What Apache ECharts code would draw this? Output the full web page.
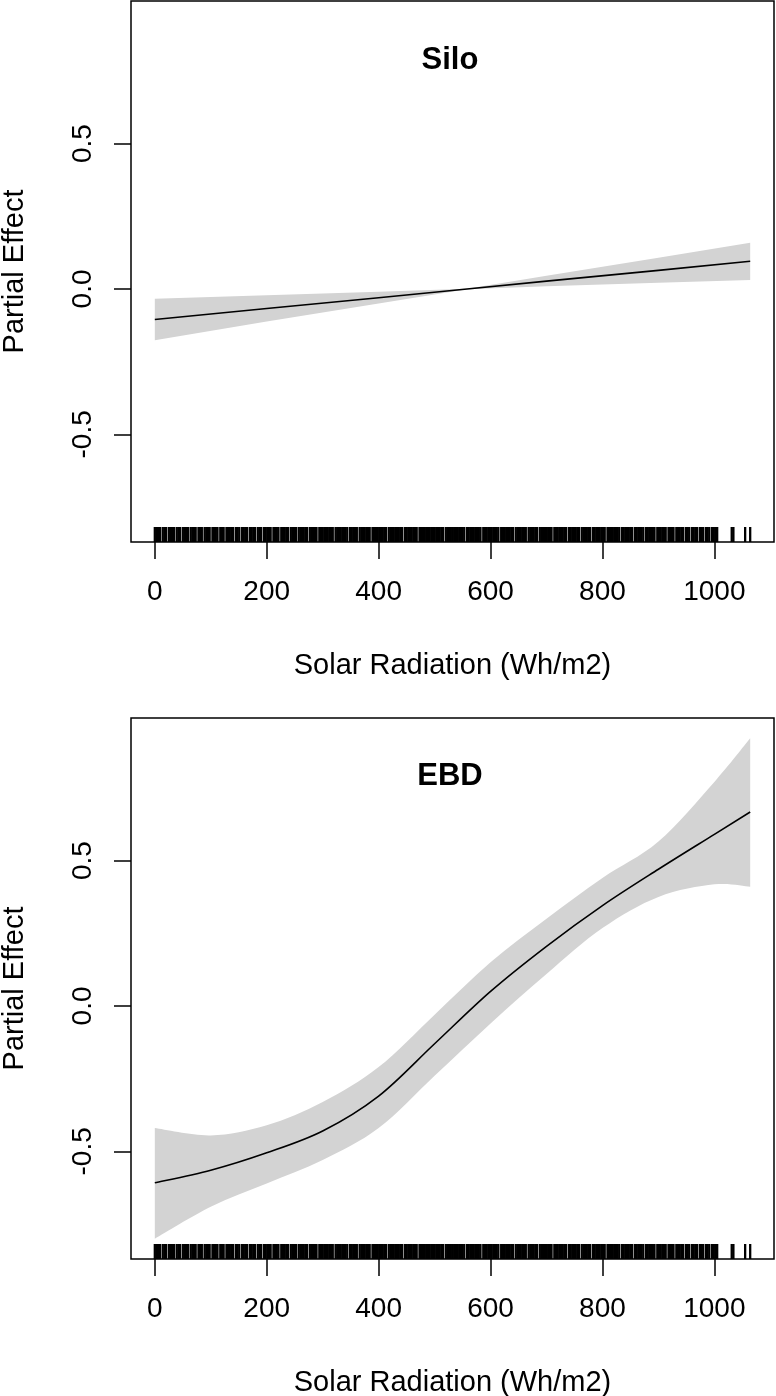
<!DOCTYPE html>
<html><head><meta charset="utf-8">
<script src="https://cdn.jsdelivr.net/npm/echarts@6/dist/echarts.min.js"></script>
<style>html,body{margin:0;padding:0;background:#fff}#c{width:776px;height:1396px}</style>
</head><body><div id="c"></div>
<script>
const xTicks = [0, 200, 400, 600, 800, 1000];
const yTicks = [-0.5, 0, 0.5];
const panelTitles = ['Silo', 'EBD'];
const xTitle = 'Solar Radiation (Wh/m2)';
const yTitle = 'Partial Effect';

// Silo panel
const siloX     = [0, 200, 400, 558, 700, 900, 1064];
const siloFit   = [-0.105, -0.067, -0.030, 0.000, 0.027, 0.064, 0.095];
const siloUpper = [-0.034, -0.022, -0.010, 0.001, 0.045, 0.107, 0.159];
const siloLower = [-0.176, -0.112, -0.050, -0.001, 0.009, 0.021, 0.031];

// EBD panel
const ebdX     = [0, 100, 200, 300, 400, 500, 600, 700, 800, 900, 1000, 1064];
const ebdFit   = [-0.608, -0.565, -0.505, -0.430, -0.310, -0.130, 0.050, 0.205, 0.345, 0.470, 0.590, 0.667];
const ebdUpper = [-0.420, -0.445, -0.410, -0.330, -0.210, -0.030, 0.150, 0.300, 0.440, 0.565, 0.770, 0.920];
const ebdLower = [-0.800, -0.690, -0.610, -0.530, -0.420, -0.240, -0.060, 0.110, 0.268, 0.375, 0.418, 0.410];

// rug: observed solar radiation values
const rugX = [
0,3,6,9,14,17,20,25,28,31,34,39,42,45,50,53,56,59,64,67,70,73,78,81,84,89,92,95,98,
103,106,109,112,117,120,123,128,131,134,137,140,145,148,151,156,159,162,165,170,173,176,179,184,187,190,195,198,
201,204,207,212,215,218,221,226,229,232,235,238,243,246,249,252,257,260,263,266,269,272,277,280,283,286,289,294,297,
300,303,306,309,312,315,318,323,326,329,332,335,338,341,344,349,352,355,358,361,366,369,372,375,378,381,384,389,392,395,398,
401,404,407,410,413,418,421,424,427,430,433,436,439,442,447,450,453,456,459,462,465,468,473,476,479,482,485,488,491,494,497,
500,503,506,509,512,515,520,523,526,529,532,535,538,541,544,547,550,553,558,561,564,567,570,573,576,579,582,587,590,593,596,599,
602,605,608,611,614,619,622,625,628,631,634,637,640,645,648,651,654,657,660,663,668,671,674,677,680,683,688,691,694,697,
700,703,706,709,714,717,720,723,726,729,732,735,740,743,746,749,752,755,758,763,766,769,772,775,778,783,786,789,792,795,798,
801,804,809,812,815,818,821,824,827,830,835,838,841,844,847,850,853,858,861,864,867,870,873,878,881,884,887,890,893,898,
901,904,907,910,913,918,921,924,927,932,935,938,941,944,949,952,955,960,963,966,969,974,977,980,985,988,991,996,999,1002,1005,
1031,1034,1055,1064
];

const X_MIN = -42.56, X_MAX = 1106.56, Y_MIN = -0.87, Y_MAX = 0.99;
const FONT = 'Liberation Sans, Arial, Helvetica, sans-serif';
const FS_TICK = 28;
const FS_TITLE = 29;

// Catmull-Rom spline through pixel points -> bezier segments
function crSegs(pts, smooth) {
  let d = '';
  for (let i = 0; i < pts.length - 1; i++) {
    const p1 = pts[i], p2 = pts[i + 1];
    if (!smooth) { d += ` L${p2[0]},${p2[1]}`; continue; }
    const p0 = pts[i - 1] || p1, p3 = pts[i + 2] || p2;
    const c1 = [p1[0] + (p2[0] - p0[0]) / 6, p1[1] + (p2[1] - p0[1]) / 6];
    const c2 = [p2[0] - (p3[0] - p1[0]) / 6, p2[1] - (p3[1] - p1[1]) / 6];
    d += ` C${c1[0]},${c1[1]} ${c2[0]},${c2[1]} ${p2[0]},${p2[1]}`;
  }
  return d;
}

function xAxis(gi) {
  return {
    gridIndex: gi, type: 'value', min: X_MIN, max: X_MAX,
    axisLine: { show: false, onZero: false },
    splitLine: { show: false },
    axisTick: { show: true, customValues: xTicks, length: 17, lineStyle: { color: '#000', width: 1.5 } },
    axisLabel: { show: true, customValues: xTicks, margin: 36, color: '#000', fontSize: FS_TICK, fontFamily: FONT,
      formatter: v => String(v) },
    name: xTitle, nameLocation: 'middle', nameGap: 109,
    nameTextStyle: { color: '#000', fontSize: FS_TITLE, fontFamily: FONT }
  };
}
function yAxis(gi) {
  return {
    gridIndex: gi, type: 'value', min: Y_MIN, max: Y_MAX,
    axisLine: { show: false, onZero: false },
    splitLine: { show: false },
    axisTick: { show: true, customValues: yTicks, length: 17, lineStyle: { color: '#000', width: 1.5 } },
    axisLabel: { show: true, customValues: yTicks, rotate: 90, margin: 34, color: '#000', fontSize: FS_TICK, fontFamily: FONT,
      formatter: v => v.toFixed(1) },
    name: yTitle, nameLocation: 'middle', nameGap: 102, nameRotate: 90,
    nameTextStyle: { color: '#000', fontSize: FS_TITLE, fontFamily: FONT }
  };
}

function rugSeries(gi) {
  return {
    type: 'custom', xAxisIndex: gi, yAxisIndex: gi, silent: true, clip: true,
    data: rugX.map(v => [v, Y_MIN]),
    renderItem: function (params, api) {
      const p = api.coord([api.value(0), Y_MIN]);
      return { type: 'line', shape: { x1: p[0], y1: p[1], x2: p[0], y2: p[1] - 15 },
        style: { stroke: '#000', lineWidth: 2.3 } };
    }
  };
}

function bandSeries(gi, xs, up, lo, smooth) {
  return {
    type: 'custom', xAxisIndex: gi, yAxisIndex: gi, silent: true, clip: true, z: 1,
    data: [[xs[0], lo[0]]],
    renderItem: function (params, api) {
      const upPts = xs.map((x, i) => api.coord([x, up[i]]));
      const loPts = xs.map((x, i) => api.coord([x, lo[i]])).reverse();
      const d = `M${upPts[0][0]},${upPts[0][1]}` + crSegs(upPts, smooth) +
        ` L${loPts[0][0]},${loPts[0][1]}` + crSegs(loPts, smooth) + ' Z';
      return { type: 'path', shape: { pathData: d }, style: { fill: '#d3d3d3', stroke: null } };
    }
  };
}
function fitSeries(gi, xs, fit, smooth) {
  return {
    type: 'custom', xAxisIndex: gi, yAxisIndex: gi, silent: true, clip: true, z: 5,
    data: [[xs[0], fit[0]]],
    renderItem: function (params, api) {
      const pts = xs.map((x, i) => api.coord([x, fit[i]]));
      const d = `M${pts[0][0]},${pts[0][1]}` + crSegs(pts, smooth);
      return { type: 'path', shape: { pathData: d }, style: { fill: null, stroke: '#000', lineWidth: 1.6 } };
    }
  };
}

const gridBase = { left: 131, right: 2, height: 541, show: true, borderColor: '#000', borderWidth: 1.5,
  backgroundColor: 'transparent', containLabel: false, outerBoundsMode: 'none' };

const chart = echarts.init(document.getElementById('c'), null, { renderer: 'canvas' });
chart.setOption({
  animation: false,
  backgroundColor: '#fff',
  grid: [
    Object.assign({}, gridBase, { top: 1 }),
    Object.assign({}, gridBase, { top: 718 })
  ],
  xAxis: [xAxis(0), xAxis(1)],
  yAxis: [yAxis(0), yAxis(1)],
  graphic: [
    { type: 'text', x: 450, y: 60, style: { text: panelTitles[0], textAlign: 'center', textVerticalAlign: 'middle',
      font: 'bold 31px ' + FONT, fill: '#000' } },
    { type: 'text', x: 450, y: 776, style: { text: panelTitles[1], textAlign: 'center', textVerticalAlign: 'middle',
      font: 'bold 31px ' + FONT, fill: '#000' } }
  ],
  series: [
    bandSeries(0, siloX, siloUpper, siloLower, false),
    fitSeries(0, siloX, siloFit, false),
    rugSeries(0),
    bandSeries(1, ebdX, ebdUpper, ebdLower, true),
    fitSeries(1, ebdX, ebdFit, true),
    rugSeries(1)
  ]
});
</script></body></html>
